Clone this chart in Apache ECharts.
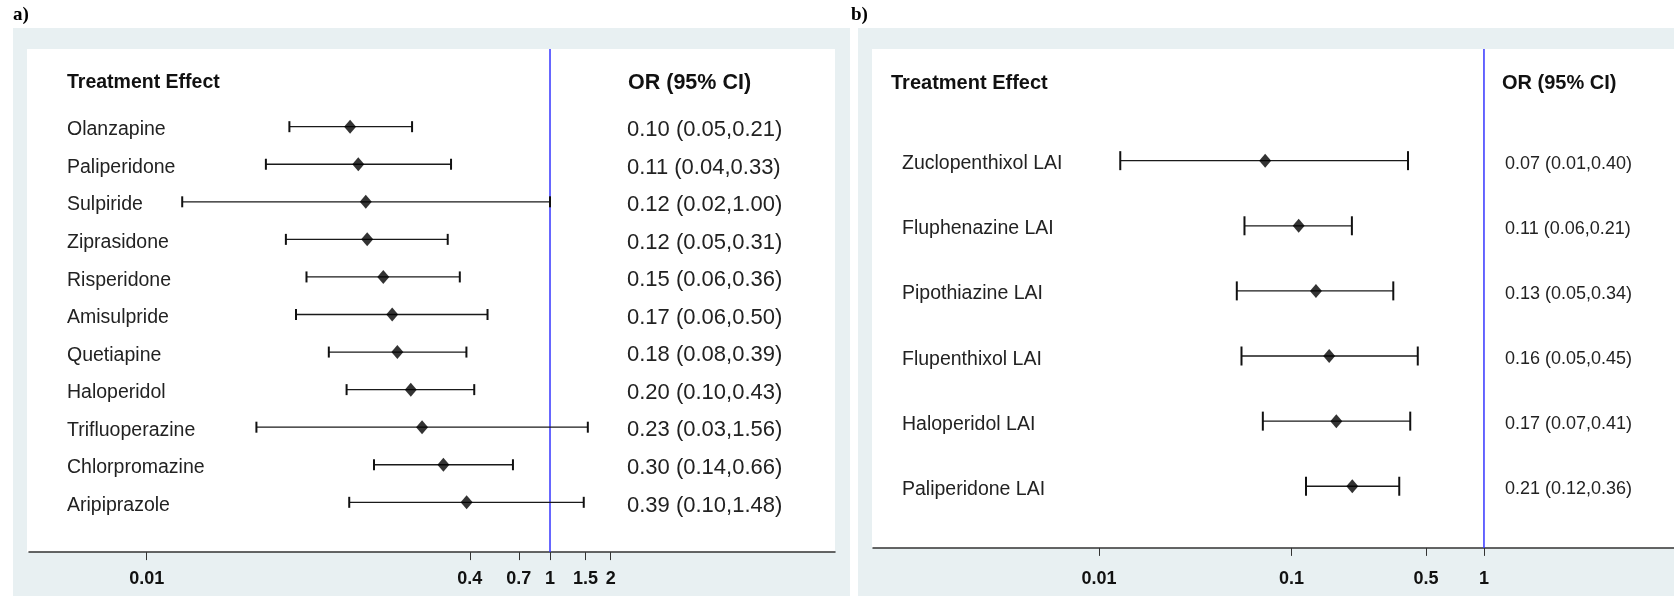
<!DOCTYPE html>
<html>
<head>
<meta charset="utf-8">
<script src="https://cdn.jsdelivr.net/npm/echarts@6/dist/echarts.min.js"></script>
<style>
  html, body { margin: 0; padding: 0; background: #fff; }
  #chart { width: 1674px; height: 596px; }
</style>
</head>
<body>
<div id="chart"></div>
<script>
// panel a: oral antipsychotics
const drugsA = ['Olanzapine', 'Paliperidone', 'Sulpiride', 'Ziprasidone', 'Risperidone', 'Amisulpride',
  'Quetiapine', 'Haloperidol', 'Trifluoperazine', 'Chlorpromazine', 'Aripiprazole'];
const orA = [0.102, 0.112, 0.122, 0.124, 0.149, 0.165, 0.175, 0.204, 0.232, 0.296, 0.386];
const lowA = [0.051, 0.039, 0.015, 0.049, 0.062, 0.055, 0.080, 0.098, 0.035, 0.134, 0.101];
const highA = [0.207, 0.323, 1.00, 0.311, 0.357, 0.49, 0.385, 0.421, 1.54, 0.655, 1.47];
const ciTextA = ['0.10 (0.05,0.21)', '0.11 (0.04,0.33)', '0.12 (0.02,1.00)', '0.12 (0.05,0.31)',
  '0.15 (0.06,0.36)', '0.17 (0.06,0.50)', '0.18 (0.08,0.39)', '0.20 (0.10,0.43)',
  '0.23 (0.03,1.56)', '0.30 (0.14,0.66)', '0.39 (0.10,1.48)'];
const ticksA = [0.01, 0.4, 0.7, 1, 1.5, 2];

// panel b: long-acting injectables
const drugsB = ['Zuclopenthixol LAI', 'Fluphenazine LAI', 'Pipothiazine LAI', 'Flupenthixol LAI',
  'Haloperidol LAI', 'Paliperidone LAI'];
const orB = [0.073, 0.109, 0.134, 0.157, 0.171, 0.207];
const lowB = [0.0129, 0.057, 0.052, 0.055, 0.071, 0.119];
const highB = [0.403, 0.206, 0.338, 0.453, 0.414, 0.363];
const ciTextB = ['0.07 (0.01,0.40)', '0.11 (0.06,0.21)', '0.13 (0.05,0.34)', '0.16 (0.05,0.45)',
  '0.17 (0.07,0.41)', '0.21 (0.12,0.36)'];
const ticksB = [0.01, 0.1, 0.5, 1];

const refValue = 1;

const FONT = '"Liberation Sans", Arial, sans-serif';
const TXT = '#222';
const BG = '#e8f0f2';

const chart = echarts.init(document.getElementById('chart'));

// horizontal CI line with end caps
function ciItem(cap) {
  return function (params, api) {
    const y = api.value(2);
    const a = api.coord([api.value(0), y]);
    const b = api.coord([api.value(1), y]);
    const line = { stroke: '#1a1a1a', lineWidth: 1.3 };
    const capStyle = { stroke: '#111', lineWidth: 2 };
    return {
      type: 'group',
      children: [
        { type: 'line', shape: { x1: a[0], y1: a[1], x2: b[0], y2: b[1] }, style: line },
        { type: 'line', shape: { x1: a[0], y1: a[1] - cap, x2: a[0], y2: a[1] + cap }, style: capStyle },
        { type: 'line', shape: { x1: b[0], y1: b[1] - cap, x2: b[0], y2: b[1] + cap }, style: capStyle }
      ]
    };
  };
}

// the vertical line at OR = 1, running the full white panel
function refItem(top, bottom) {
  return function (params, api) {
    const x = api.coord([api.value(0), 0])[0];
    return {
      type: 'line',
      shape: { x1: x, y1: top, x2: x, y2: bottom },
      style: { stroke: '#3535ff', lineWidth: 1.5 }
    };
  };
}

function fmt(v) { return String(+Number(v).toPrecision(6)); }

function xAxisFor(gi, min, max, ticks, offset, margin) {
  return {
    type: 'log', gridIndex: gi, min: min, max: max, logBase: 10, offset: offset,
    axisLine: { show: true, lineStyle: { color: '#333', width: 1.5 } },
    axisTick: { show: true, customValues: ticks, length: 8, lineStyle: { color: '#333', width: 1 } },
    axisLabel: { customValues: ticks, formatter: fmt, margin: margin, color: '#111',
      fontFamily: FONT, fontWeight: 'bold', fontSize: 18 },
    splitLine: { show: false }, minorTick: { show: false }
  };
}

function yAxisFor(gi, cats, margin, size) {
  return {
    type: 'category', gridIndex: gi, data: cats, inverse: true, position: 'left',
    axisLine: { show: false }, axisTick: { show: false }, splitLine: { show: false },
    axisLabel: { margin: margin, align: 'left', color: TXT, fontFamily: FONT, fontSize: size }
  };
}

function header(x, y, text, size) {
  return { type: 'text', x: x, y: y, z: 5,
    style: { text: text, fill: '#111', font: 'bold ' + size + 'px ' + FONT, align: 'left', verticalAlign: 'middle' } };
}

const option = {
  backgroundColor: '#fff',
  animation: false,
  graphic: [
    { type: 'rect', z: -20, shape: { x: 13, y: 28, width: 837, height: 568 }, style: { fill: BG } },
    { type: 'rect', z: -20, shape: { x: 858, y: 28, width: 816, height: 568 }, style: { fill: BG } },
    { type: 'rect', z: -10, shape: { x: 27, y: 49, width: 808, height: 503 }, style: { fill: '#fff' } },
    { type: 'rect', z: -10, shape: { x: 872, y: 49, width: 802, height: 499 }, style: { fill: '#fff' } },
    { type: 'text', x: 13, y: 15, style: { text: 'a)', fill: '#000', font: 'bold 19px "Liberation Serif", serif', verticalAlign: 'middle' } },
    { type: 'text', x: 851, y: 15, style: { text: 'b)', fill: '#000', font: 'bold 19px "Liberation Serif", serif', verticalAlign: 'middle' } },
    header(67, 83, 'Treatment Effect', 19.5),
    header(628, 83, 'OR (95% CI)', 21.5),
    header(891, 83, 'Treatment Effect', 20),
    header(1502, 83, 'OR (95% CI)', 20)
  ],
  grid: [
    { left: 29, width: 806, top: 107.9, height: 413.2 },
    { left: 873, width: 801, top: 128.1, height: 390.7 },
    // text rows sit a few pixels below the marks in the original
    { left: 29, width: 806, top: 111.1, height: 413.2 },
    { left: 873, width: 801, top: 131.3, height: 390.7 }
  ],
  xAxis: [
    xAxisFor(0, 0.002608, 25.9, ticksA, 31, 18),
    xAxisFor(1, 0.00067, 9.71, ticksB, 29.1, 22),
    { type: 'value', gridIndex: 2, show: false },
    { type: 'value', gridIndex: 3, show: false }
  ],
  yAxis: [
    yAxisFor(0, drugsA, 0, 1),
    yAxisFor(1, drugsB, 0, 1),
    yAxisFor(2, drugsA, -38, 19.5),
    yAxisFor(2, ciTextA, -598, 22),
    yAxisFor(3, drugsB, -29, 19.5),
    yAxisFor(3, ciTextB, -632, 18)
  ],
  series: [
    { type: 'custom', xAxisIndex: 0, yAxisIndex: 0, z: 1, renderItem: refItem(49, 552), data: [[refValue, 0]] },
    { type: 'custom', xAxisIndex: 0, yAxisIndex: 0, z: 2, renderItem: ciItem(5.5),
      encode: { x: [0, 1], y: 2 }, data: drugsA.map((d, i) => [lowA[i], highA[i], i]) },
    { type: 'scatter', xAxisIndex: 0, yAxisIndex: 0, z: 3, symbol: 'diamond', symbolSize: [12, 14],
      itemStyle: { color: '#000' }, data: drugsA.map((d, i) => [orA[i], i]) },

    { type: 'custom', xAxisIndex: 1, yAxisIndex: 1, z: 1, renderItem: refItem(49, 548), data: [[refValue, 0]] },
    { type: 'custom', xAxisIndex: 1, yAxisIndex: 1, z: 2, renderItem: ciItem(9.5),
      encode: { x: [0, 1], y: 2 }, data: drugsB.map((d, i) => [lowB[i], highB[i], i]) },
    { type: 'scatter', xAxisIndex: 1, yAxisIndex: 1, z: 3, symbol: 'diamond', symbolSize: [12, 14],
      itemStyle: { color: '#000' }, data: drugsB.map((d, i) => [orB[i], i]) }
  ]
};

// the mark axes only carry positions; their labels are drawn by the text axes
option.yAxis[0].axisLabel.show = false;
option.yAxis[1].axisLabel.show = false;

chart.setOption(option);
</script>
</body>
</html>
